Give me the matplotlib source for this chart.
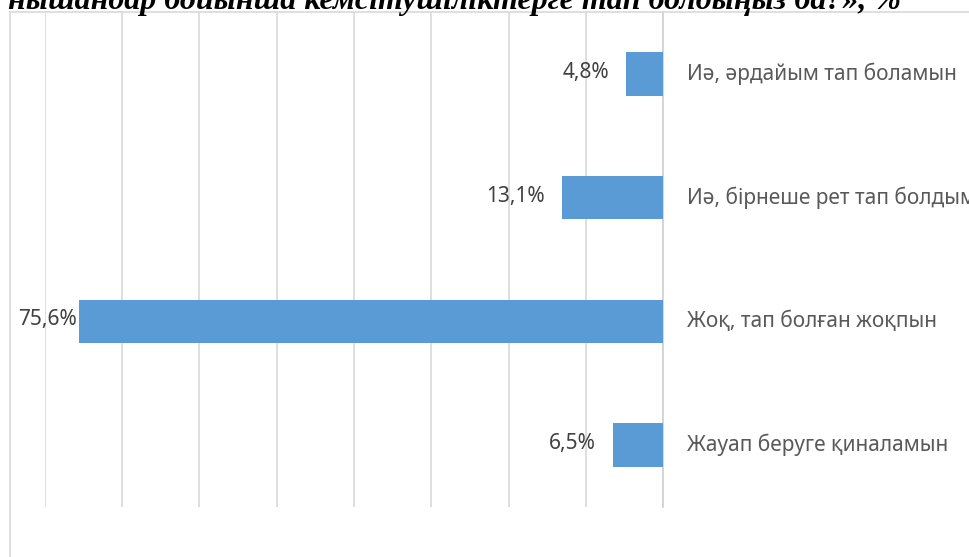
import matplotlib
matplotlib.use("Agg")
import matplotlib.pyplot as plt
from matplotlib.lines import Line2D

W, H = 969, 557
DPI = 100

categories = [
    "Иә, әрдайым тап боламын",
    "Иә, бірнеше рет тап болдым",
    "Жоқ, тап болған жоқпын",
    "Жауап беруге қиналамын",
]
values = [4.8, 13.1, 75.6, 6.5]
value_labels = ["4,8%", "13,1%", "75,6%", "6,5%"]
x_ticks = [0, 10, 20, 30, 40, 50, 60, 70, 80]
title = "нышандар бойынша кемсітушіліктерге тап болдыңыз ба?», %"

BAR_COLOR = "#5b9bd5"
GRID_COLOR = "#d9d9d9"
FONT = ["Noto Sans", "DejaVu Sans"]

plt.rcParams["font.family"] = FONT

fig = plt.figure(figsize=(W / DPI, H / DPI), dpi=DPI)
fig.patch.set_facecolor("white")


def fx(px):
    return px / W


def fy(py):
    return 1 - py / H


# plot area in pixel terms
left, right, top, bottom = 45, 663, 12, 507
ax = fig.add_axes([fx(left), fy(bottom), fx(right - left), (bottom - top) / H])

y = list(range(len(categories)))
ax.barh(y, values, height=0.35, color=BAR_COLOR, zorder=3)

ax.set_xlim(80, 0)
ax.set_ylim(len(categories) - 0.5, -0.5)
ax.set_xticks(x_ticks)
ax.tick_params(axis="x", length=0, labelbottom=False)
ax.tick_params(axis="y", length=0, labelleft=False)
ax.grid(True, axis="x", color=GRID_COLOR, lw=1.2, zorder=0)
for s in ["top", "bottom", "left"]:
    ax.spines[s].set_visible(False)
ax.spines["right"].set_color("#d0d0d0")
ax.spines["right"].set_linewidth(1.2)

# category labels at the right of the zero axis
for yi, cat in zip(y, categories):
    ax.annotate(cat, xy=(0, yi), xytext=(17, 0), textcoords="offset points",
                ha="left", va="center", fontsize=15, color="#595959",
                annotation_clip=False)

# value labels left of each bar, kept inside the chart frame
fig.canvas.draw()
renderer = fig.canvas.get_renderer()
for yi, v, lab in zip(y, values, value_labels):
    t = ax.annotate(lab, xy=(v, yi), xytext=(-12, 1), textcoords="offset points",
                    ha="right", va="center", fontsize=15, color="#404040",
                    annotation_clip=False)
    bb = t.get_window_extent(renderer)
    if bb.x0 < 18:
        t.set_position((-12 + (18 - bb.x0) * 72 / DPI, 1))

# chart-area frame (top and left edges visible)
fig.add_artist(Line2D([fx(10), fx(W + 5)], [fy(12), fy(12)], color="#d9d9d9", lw=1.2))
fig.add_artist(Line2D([fx(10), fx(10)], [fy(12), fy(H + 5)], color="#d9d9d9", lw=1.2))

# title, partly cut off by the top of the page
fig.text(fx(8), fy(9), title, ha="left", va="baseline", fontsize=23,
         fontweight="bold", fontstyle="italic", family="Liberation Serif",
         color="black")

fig.savefig("out.png", dpi=DPI)
